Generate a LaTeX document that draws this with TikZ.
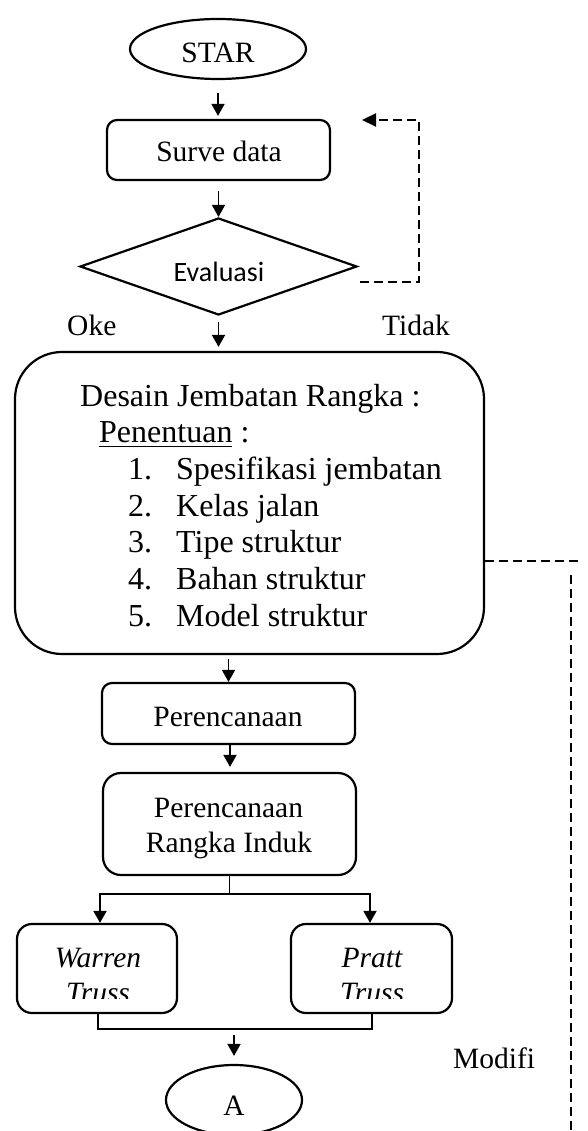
\documentclass[tikz,border=0pt]{standalone}
\usepackage{fontspec}
\setmainfont{Liberation Serif}
\newfontfamily\calibrifont{Carlito}
\usetikzlibrary{shapes.geometric,arrows.meta,calc}
\newcommand\myul[1]{\setbox0\hbox{#1}\rlap{\rule[-4.5pt]{\wd0}{1.4pt}}#1}
\begin{document}
\begin{tikzpicture}[x=1pt,y=-1pt,
  shapebox/.style={draw, line width=2.2pt, inner sep=0pt},
  arr/.style={line width=1.7pt, -{Triangle[width=13pt,length=12pt]}},
  conn/.style={line width=1.8pt},
  dsh/.style={line width=2.2pt, dash pattern=on 9pt off 5pt},
  txt/.style={inner sep=0pt, anchor=base, font=\fontsize{29.5}{35}\selectfont},
  big/.style={inner sep=0pt, anchor=base west, font=\fontsize{32}{37}\selectfont},
  ital/.style={txt, font=\fontsize{29.5}{35}\selectfont\itshape}]
\useasboundingbox (0,0) rectangle (587,1131);
\clip (0,0) rectangle (587,1131);

% shapes
\node[shapebox, ellipse, minimum width=176, minimum height=60] (star) at (218,49) {};
\node[txt] (starT) at (218,63) {STAR};
\node[shapebox, rounded corners=10, minimum width=223, minimum height=60] (surve) at (218.5,150) {};
\node[txt] (surveT) at (219,162) {Surve data};
\node[shapebox, diamond, minimum width=277, minimum height=97] (eval) at (218.5,266.5) {};
\node[txt, font=\calibrifont\fontsize{28}{34}\selectfont] (evalT) at (219,282) {Evaluasi};

\node[txt, anchor=base west] (oke) at (67,335) {Oke};
\node[txt, anchor=base west] (tidak) at (382,335) {Tidak};

\node[shapebox, rounded corners=47, minimum width=469, minimum height=302] (desain) at (249.5,503) {};
\node[big] (d1) at (80,406) {Desain Jembatan Rangka :};
\node[big] (d2) at (99,442.7) {\myul{Penentuan} :};
\node[big] (n1) at (128,479.4) {1.};
\node[big] (i1) at (176,479.4) {Spesifikasi jembatan};
\node[big] (n2) at (128,516.1) {2.};
\node[big] (i2) at (176,516.1) {Kelas jalan};
\node[big] (n3) at (128,552.8) {3.};
\node[big] (i3) at (176,552.8) {Tipe struktur};
\node[big] (n4) at (128,589.5) {4.};
\node[big] (i4) at (176,589.5) {Bahan struktur};
\node[big] (n5) at (128,626.2) {5.};
\node[big] (i5) at (176,626.2) {Model struktur};

\node[shapebox, rounded corners=10, minimum width=253, minimum height=61] (perenc) at (228.5,713.5) {};
\node[txt] (perencT) at (228,726) {Perencanaan};
\node[shapebox, rounded corners=18, minimum width=253, minimum height=102] (rangka) at (229.5,824) {};
\node[txt] (rangkaT1) at (228.5,817) {Perencanaan};
\node[txt] (rangkaT2) at (229,852) {Rangka Induk};

\node[shapebox, rounded corners=15, minimum width=160, minimum height=89] (warren) at (97,968.5) {};
\node[shapebox, rounded corners=15, minimum width=161, minimum height=89] (pratt) at (371.5,968.5) {};
\begin{scope}
  \clip (0,0) rectangle (587,998);
  \node[ital] (warrenT1) at (98,967) {Warren};
  \node[ital] (warrenT2) at (98,1002) {Truss};
  \node[ital] (prattT1) at (372,967) {Pratt};
  \node[ital] (prattT2) at (372,1002) {Truss};
\end{scope}

\node[shapebox, ellipse, minimum width=136, minimum height=70] (A) at (234,1100) {};
\node[txt] (AT) at (234,1115) {A};
\node[txt, anchor=base west] (modifi) at (453,1068) {Modifi};

% connectors
\draw[arr] ([yshift=-13pt]star.south) -- ([yshift=3pt]star.south |- surve.north);
\draw[arr] ([yshift=-10pt]surve.south) -- (surve.south |- eval.north);
\draw[arr] ([yshift=-6pt]eval.south) -- ([yshift=4pt]eval.south |- desain.north);
\draw[arr] ([yshift=-4pt]perenc.north |- desain.south) -- (perenc.north);
\draw[arr] ([xshift=1.5pt]perenc.south) -- ([xshift=1.5pt,yshift=5pt]perenc.south |- rangka.north);

\coordinate (sp) at (230,894);
\coordinate (spL) at (100,894);
\coordinate (spR) at (370,894);
\draw[conn] (rangka.south) -- (rangka.south |- sp);
\draw[conn] ([xshift=-0.8pt]spL) -- ([xshift=0.8pt]spR);
\draw[arr] (spL) -- (spL |- warren.north);
\draw[arr] (spR) -- (spR |- pratt.north);

\coordinate (jn) at (0,1029);
\draw[conn] ([xshift=1pt]warren.south) -- ([xshift=1pt]warren.south |- jn) -- ([xshift=0.5pt]pratt.south |- jn) -- ([xshift=0.5pt]pratt.south);
\draw[arr] ([yshift=-6pt]A.north |- jn) -- ([yshift=8pt]A.north);

% dashed feedback from Evaluasi (Tidak)
\coordinate (fb1) at (360,282);
\coordinate (fb2) at (419,282);
\coordinate (fb3) at (419,120);
\coordinate (fb4) at (362,120);
\draw[dsh, -{Triangle[width=13pt,length=14pt]}] (fb1) -- (fb2) -- (fb3) -- (fb4);

% dashed modification line
\coordinate (md1) at (582,561);
\coordinate (md2) at (571,575);
\coordinate (md3) at (571,1131);
\draw[dsh] (desain.east |- md1) -- (md1);
\draw[dsh] (md2) -- (md3);
\end{tikzpicture}
\end{document}
